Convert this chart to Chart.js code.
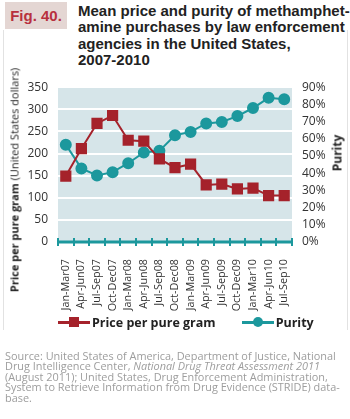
<!DOCTYPE html>
<html>
<head>
<meta charset="utf-8">
<script src="https://cdn.jsdelivr.net/npm/chart.js@4.4.0/dist/chart.umd.min.js"></script>
<style>
  body { margin: 0; width: 350px; height: 419px; background: #fff; position: relative; overflow: hidden; font-family: "Open Sans", sans-serif; }
  .figbox { position: absolute; left: 5px; top: 2px; width: 62px; height: 27px; background: #e4d6d3; color: #b8303e; font: bold 15px "Liberation Sans", Arial, sans-serif; line-height: 27px; text-align: center; }
  .title { position: absolute; left: 78px; top: 3px; font: bold 15px "Liberation Sans", Arial, sans-serif; line-height: 16.3px; color: #222; white-space: nowrap; }
  .edge { position: absolute; top: 30px; height: 300px; width: 1px; background: #e2e2e2; }
  #wrap { position: absolute; left: 0; top: 70px; width: 350px; height: 260px; }
  .ytitle { position: absolute; left: 14px; top: 180px; transform: translate(-50%, -50%) rotate(-90deg); white-space: nowrap; font-size: 11px; color: #222; }
  .ytitle2 { position: absolute; left: 337px; top: 153px; transform: translate(-50%, -50%) rotate(-90deg); white-space: nowrap; font-size: 12px; font-weight: bold; color: #222; }
  #legend { position: absolute; left: 58px; top: 311px; white-space: nowrap; font-size: 12.5px; font-weight: bold; color: #222; }
  .item { display: inline-flex; align-items: center; margin-right: 26px; }
  .sample { position: relative; width: 32px; height: 3px; margin-right: 2px; }
  .mark { position: absolute; left: 11px; top: -4px; width: 10px; height: 10px; }
  .source { position: absolute; left: 5px; top: 351px; font-size: 10.9px; line-height: 10.4px; color: #9d9d9d; white-space: nowrap; }
</style>
</head>
<body>
<div class="figbox">Fig. 40.</div>
<div class="title">Mean price and purity of methamphet-<br>amine purchases by law enforcement<br>agencies in the United States,<br>2007-2010</div>
<div class="edge" style="left:3px"></div>
<div class="edge" style="left:347px"></div>
<div id="wrap"><canvas id="chart" width="350" height="260"></canvas></div>
<div class="ytitle"><b>Price per pure gram</b> (United States dollars)</div>
<div class="ytitle2">Purity</div>
<div id="legend"></div>
<div class="source">Source: United States of America, Department of Justice, National<br>Drug Intelligence Center, <i>National Drug Threat Assessment 2011</i><br>(August 2011); United States, Drug Enforcement Administration,<br>System to Retrieve Information from Drug Evidence (STRIDE) data-<br>base.</div>
<script>
const quarters = ["Jan-Mar07","Apr-Jun07","Jul-Sep07","Oct-Dec07","Jan-Mar08","Apr-Jun08","Jul-Sep08","Oct-Dec08","Jan-Mar09","Apr-Jun09","Jul-Sep09","Oct-Dec09","Jan-Mar10","Apr-Jun10","Jul-Sep10"];
const pricePerGram = [149, 211, 268, 286, 230, 228, 188, 168, 176, 129, 131, 120, 122, 105, 105];
const purity = [56.6, 42.8, 38.7, 40.6, 45.8, 52.1, 53.0, 62.1, 64.0, 68.9, 69.8, 73.2, 77.9, 83.8, 83.0];
const seriesNames = ["Price per pure gram", "Purity"];

const red = "#a5222b";
const teal = "#1c989d";

// plot background and teal bottom axis with ticks crossing it
const plotBits = {
  id: "plotBits",
  beforeDraw(chart) {
    const a = chart.chartArea, ctx = chart.ctx;
    ctx.save();
    ctx.fillStyle = "#d6e5e9";
    ctx.fillRect(a.left, a.top, a.right - a.left, a.bottom - a.top);
    ctx.restore();
  },
  beforeDatasetsDraw(chart) {
    const a = chart.chartArea, ctx = chart.ctx, x = chart.scales.x;
    const n = quarters.length;
    ctx.save();
    ctx.strokeStyle = teal;
    ctx.lineWidth = 3;
    ctx.beginPath();
    ctx.moveTo(a.left, a.bottom);
    ctx.lineTo(a.right, a.bottom);
    ctx.stroke();
    ctx.lineWidth = 2;
    for (let i = 0; i <= n; i++) {
      const px = Math.round(x.left + i * (x.width / n));
      ctx.beginPath();
      ctx.moveTo(px, a.bottom - 4);
      ctx.lineTo(px, a.bottom + 4);
      ctx.stroke();
    }
    ctx.restore();
  }
};

const chart = new Chart(document.getElementById("chart"), {
  type: "line",
  data: {
    labels: quarters,
    datasets: [
      { label: seriesNames[0], data: pricePerGram, yAxisID: "y", borderColor: red, backgroundColor: red, borderWidth: 2, pointStyle: "rect", pointRadius: 6.5, pointHoverRadius: 6.5 },
      { label: seriesNames[1], data: purity, yAxisID: "y1", borderColor: teal, backgroundColor: teal, borderWidth: 2, pointStyle: "circle", pointRadius: 5, pointHoverRadius: 5 }
    ]
  },
  options: {
    responsive: false,
    devicePixelRatio: 1,
    animation: false,
    layout: { padding: { top: 13, left: 0, right: 0, bottom: 0 } },
    plugins: { legend: { display: false }, tooltip: { enabled: false } },
    scales: {
      x: {
        offset: true,
        grid: { display: false },
        border: { display: false },
        ticks: { minRotation: 90, maxRotation: 90, padding: 9, color: "#333", font: { family: "Open Sans", size: 10.8 }, autoSkip: false },
        afterFit(s) { s.height = 88; }
      },
      y: {
        position: "left",
        min: 0, max: 350,
        ticks: { stepSize: 50, padding: 10, color: "#333", font: { family: "Open Sans", size: 12 }, autoSkip: false },
        grid: { color: "#ffffff", lineWidth: 2, drawTicks: false },
        border: { display: false },
        afterFit(s) { s.width = 58; }
      },
      y1: {
        position: "right",
        min: 0, max: 90,
        ticks: { stepSize: 10, padding: 10, color: "#333", font: { family: "Open Sans", size: 12 }, autoSkip: false, callback: v => v + "%" },
        grid: { display: false, drawTicks: false },
        border: { display: false },
        afterFit(s) { s.width = 58; }
      }
    }
  },
  plugins: [plotBits]
});

// legend with line + marker samples
const legend = document.getElementById("legend");
chart.data.datasets.forEach((ds, i) => {
  const item = document.createElement("span");
  item.className = "item";
  const sample = document.createElement("span");
  sample.className = "sample";
  sample.style.background = ds.borderColor;
  const mark = document.createElement("span");
  mark.className = "mark";
  mark.style.background = ds.borderColor;
  if (ds.pointStyle === "circle") mark.style.borderRadius = "50%";
  sample.appendChild(mark);
  item.appendChild(sample);
  item.appendChild(document.createTextNode(ds.label));
  legend.appendChild(item);
});
</script>
</body>
</html>
